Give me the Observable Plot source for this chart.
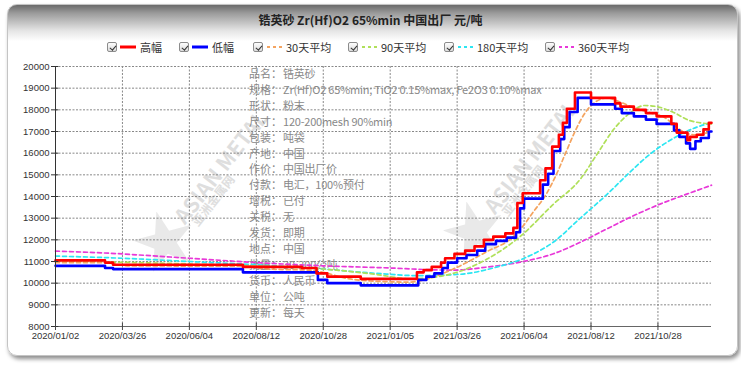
<!DOCTYPE html>
<html><head><meta charset="utf-8">
<script src="https://cdn.jsdelivr.net/npm/d3@7"></script>
<script src="https://cdn.jsdelivr.net/npm/@observablehq/plot@0.6"></script>
<style>
body{margin:0;background:#fff;width:741px;height:366px;overflow:hidden;font-family:"Noto Sans CJK SC","Noto Sans",sans-serif;position:relative;}
#card{position:absolute;left:7px;top:4px;width:729px;height:350px;border:1px solid #c4c4c4;border-radius:10px;box-shadow:2px 3px 4px rgba(0,0,0,0.45);background:linear-gradient(#6a6a6a 0px,#9a9a9a 8px,#e6e6e6 26px,#fff 36px,#fff 100%);}
#title{position:absolute;left:0;top:11px;width:741px;text-align:center;font-weight:bold;font-size:12px;color:#222;line-height:18px;}
.lg{position:absolute;top:40px;height:14px;display:flex;align-items:center;font-size:11px;color:#333;white-space:nowrap;}
.cb{display:inline-block;box-sizing:border-box;width:10px;height:10px;border:1px solid #8c8c8c;border-radius:2px;background:linear-gradient(#fdfdfd,#dcdcdc);margin-right:3px;position:relative;}
.cb::after{content:"";position:absolute;left:2.5px;top:0.5px;width:2.5px;height:5px;border:solid #333;border-width:0 1.5px 1.5px 0;transform:rotate(40deg);}
.lg svg{margin-right:4px;}
.info{position:absolute;left:249px;font-size:11px;color:#888;line-height:15.9px;white-space:nowrap;}
.info .v{letter-spacing:-0.22px;}
.wm{position:absolute;color:#dedede;font-weight:bold;white-space:nowrap;transform-origin:left center;}
#plot{position:absolute;left:0;top:56px;}
</style></head>
<body>
<div id="card"></div>
<div id="title">锆英砂 Zr(Hf)O2 65%min 中国出厂 元/吨</div>
<div id="legend"></div>
<div id="wm"></div>
<div id="info"></div>
<div id="plot"></div>
<script>
// ---- data (x = trading-day index, y = 元/吨) ----
const xTickIndex = [0, 50, 100, 150, 200, 250, 300, 350, 400, 450];
const xTickLabels = ["2020/01/02","2020/03/26","2020/06/04","2020/08/12","2020/10/28","2021/01/05","2021/03/26","2021/06/04","2021/08/12","2021/10/28"];
const yTicks = [8000, 9000, 10000, 11000, 12000, 13000, 14000, 15000, 16000, 17000, 18000, 19000, 20000];

const highPrice = [[0,11050],[37,10950],[43,10850],[140,10750],[184,10700],[195,10450],[203,10300],[228,10200],[270,10500],[275,10600],[281,10750],[288,10950],[291,11150],[298,11350],[306,11500],[313,11700],[320,12000],[327,12150],[336,12300],[342,12550],[345,13700],[349,14150],[362,14750],[366,15300],[371,16300],[376,16850],[379,17400],[382,18050],[388,18800],[400,18550],[418,18300],[422,18150],[432,18000],[441,17850],[449,17700],[460,17350],[464,16950],[472,16600],[474,16750],[479,16850],[484,17100],[488,17400],[490,17400]];
const lowPrice = [[0,10800],[37,10700],[43,10650],[140,10500],[196,10150],[203,10000],[228,9900],[271,10150],[277,10300],[283,10450],[289,10700],[293,10950],[300,11150],[307,11300],[315,11500],[321,11800],[329,11950],[337,12100],[344,12350],[347,13450],[350,13900],[364,14550],[368,15050],[372,16100],[377,16650],[380,17200],[384,17900],[390,18550],[400,18250],[418,18050],[423,17850],[432,17700],[441,17550],[449,17350],[462,17050],[466,16750],[471,16450],[474,16200],[478,16550],[482,16700],[488,17000],[490,17000]];
const avg30 = [[0,10950],[35,10950],[55,10800],[140,10780],[160,10650],[190,10600],[200,10500],[215,10250],[235,10100],[265,10050],[275,10150],[297,10650],[322,11450],[342,12150],[350,12700],[357,13300],[366,14050],[374,15000],[381,16000],[388,17000],[396,17900],[403,18350],[412,18550],[420,18400],[432,18100],[445,17850],[455,17650],[462,17300],[470,16950],[478,16850],[490,17000]];
const avg90 = [[0,11000],[60,10950],[120,10850],[170,10750],[210,10600],[240,10400],[265,10200],[280,10250],[297,10450],[322,11100],[347,12150],[372,13650],[392,14800],[405,16000],[417,17100],[429,17850],[440,18200],[449,18150],[461,17900],[474,17500],[490,17350]];
const avg180 = [[0,11250],[50,11150],[100,11000],[150,10850],[200,10650],[240,10450],[270,10350],[300,10400],[330,10750],[350,11150],[372,11900],[392,13000],[412,14100],[427,15000],[442,15850],[462,16700],[479,17200],[490,17400]];
const avg360 = [[0,11480],[34,11400],[100,11150],[150,10950],[200,10800],[250,10700],[280,10620],[297,10600],[322,10740],[347,10970],[372,11360],[392,11890],[412,12510],[432,13120],[452,13660],[472,14120],[490,14520]];

const seriesNames = ["高幅","低幅","30天平均","90天平均","180天平均","360天平均"];
const seriesColors = ["#ff0000","#0000ff","#f4a460","#b0e05a","#2ce6f2","#e838d8"];
const legendLeft = [107, 179, 253, 348, 444, 545];

const infoLabels = ["品名：","规格：","形状：","尺寸：","包装：","产地：","作价：","付款：","增税：","关税：","发货：","地点：","批量：","货币：","单位：","更新："];
const infoValues = ["锆英砂","Zr(Hf)O2 65%min; TiO2 0.15%max, Fe2O3 0.10%max","粉末","120-200mesh 90%min","吨袋","中国","中国出厂价","电汇，100%预付","已付","无","即期","中国","30-300公吨","人民币","公吨","每天"];

// ---- legend ----
const lg = document.getElementById("legend");
seriesNames.forEach((name, k) => {
  const d = document.createElement("div");
  d.className = "lg";
  d.style.left = legendLeft[k] + "px";
  const solid = k < 2;
  d.innerHTML = `<span class="cb"></span><svg width="16" height="6"><line x1="0" y1="3" x2="16" y2="3" stroke="${seriesColors[k]}" stroke-width="${solid ? 3 : 2}" ${solid ? "" : 'stroke-dasharray="3,3" stroke-dashoffset="-1"'}/></svg><span>${name}</span>`;
  lg.appendChild(d);
});

// ---- info block ----
const info = document.getElementById("info");
infoLabels.forEach((lab, k) => {
  const d = document.createElement("div");
  d.className = "info";
  d.style.top = (66 + k * 15.9) + "px";
  d.innerHTML = `<span style="display:inline-block;width:34px">${lab}</span><span class="v">${infoValues[k]}</span>`;
  info.appendChild(d);
});

// ---- watermark ----
const wm = document.getElementById("wm");
[[160, 0], [470, -10]].forEach(([x, dy]) => {
  wm.innerHTML += `<div class="wm" style="left:${x - 28}px;top:${198 + dy}px;font-size:64px;color:#e9e9e9;transform:rotate(-15deg)">★</div>`;
  wm.innerHTML += `<div class="wm" style="left:${x + 18}px;top:${205 + dy}px;font-size:21px;transform:rotate(-52deg)">ASIAN METAL</div>`;
  wm.innerHTML += `<div class="wm" style="left:${x + 34}px;top:${215 + dy}px;font-size:12px;transform:rotate(-52deg)">亚洲金属网</div>`;
});

// ---- chart ----
const toObj = a => a.map(([i, v]) => ({i, v}));
const dashed = (data, k) => Plot.line(toObj(data), {x: "i", y: "v", stroke: seriesColors[k], strokeWidth: 1.7, strokeDasharray: "4,3", curve: "monotone-x"});
const step = (data, k) => Plot.line(toObj(data), {x: "i", y: "v", stroke: seriesColors[k], strokeWidth: 2.6, curve: "step-after"});

const chart = Plot.plot({
  width: 741, height: 300,
  marginTop: 10, marginBottom: 30, marginLeft: 55, marginRight: 30,
  style: {background: "transparent", fontFamily: "'Liberation Sans', Arial, sans-serif", fontSize: "9.5px", color: "#333", overflow: "visible"},
  x: {type: "linear", domain: [0, 490]},
  y: {domain: [8000, 20000]},
  marks: [
    Plot.gridY(yTicks, {stroke: "#888", strokeOpacity: 1, strokeDasharray: "2,1.5"}),
    Plot.gridX(xTickIndex, {stroke: "#888", strokeOpacity: 1, strokeDasharray: "2,1.5"}),
    dashed(avg360, 5), dashed(avg180, 4), dashed(avg90, 3), dashed(avg30, 2),
    step(lowPrice, 1), step(highPrice, 0),
    Plot.ruleX([0], {stroke: "#333"}),
    Plot.ruleY([8000], {stroke: "#666"}),
    Plot.ruleY(yTicks, {y: d => d, x1: 0, x2: 2.5, stroke: "#333"}),
    Plot.ruleX(xTickIndex, {x: d => d, y1: 8000, y2: 8150, stroke: "#444"}),
    Plot.axisY(yTicks, {tickSize: 4, tickPadding: 2, stroke: "#333", label: null, tickFormat: d => String(d)}),
    Plot.axisX(xTickIndex, {tickSize: 4, tickPadding: 2, stroke: "#444", label: null, tickFormat: (d) => xTickLabels[xTickIndex.indexOf(d)]})
  ]
});
document.getElementById("plot").appendChild(chart);
</script>
</body></html>
